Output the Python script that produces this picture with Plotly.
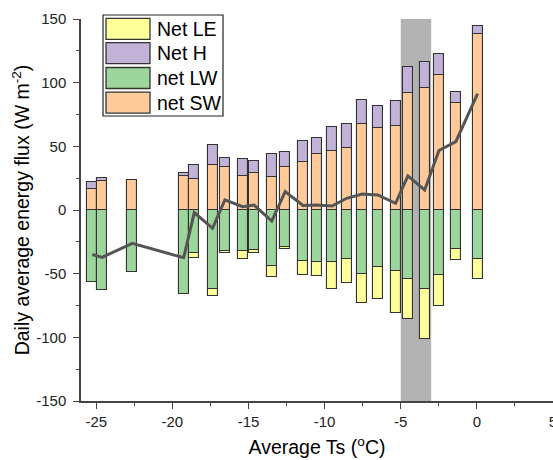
import plotly.graph_objects as go

# ---------------- data ----------------
avg_ts = [-25.26, -24.62, -22.63, -19.26, -18.56, -17.36, -16.55, -15.38, -14.63,
          -13.47, -12.59, -11.42, -10.53, -9.51, -8.55, -7.53, -6.51, -5.34,
          -4.53, -3.43, -2.49, -1.38, 0.05]
net_sw = [16.5, 22.8, 23.6, 27.0, 24.4, 35.2, 34.1, 27.0, 28.9, 26.2, 34.1, 37.5,
          43.8, 46.4, 49.0, 67.4, 64.3, 66.3, 91.8, 96.2, 105.7, 83.9, 138.2]
net_h = [5.3, 2.6, 0.0, 1.9, 10.8, 16.2, 7.1, 12.9, 9.7, 17.6, 11.3, 17.0,
         12.6, 19.1, 18.4, 19.1, 17.0, 19.4, 20.9, 20.0, 17.1, 9.1, 6.5]
net_lw = [-56.9, -62.9, -48.8, -66.3, -33.6, -62.2, -32.0, -32.5, -31.7, -43.8, -29.1, -40.4,
          -41.1, -41.1, -38.6, -50.6, -44.6, -48.0, -54.1, -61.9, -50.9, -30.9, -38.6]
net_le = [0.0, 0.0, 0.0, 0.0, -3.9, -5.0, -1.6, -6.1, -2.4, -8.7, -1.3, -11.0,
          -10.5, -21.0, -19.1, -22.8, -25.4, -32.5, -31.7, -39.6, -24.4, -8.4, -15.7]
net_total = [-34.9, -37.2, -26.2, -37.5, -2.0, -14.4, 7.9, 2.6, 3.9, -8.7, 14.4, 3.5,
             3.9, 3.1, 9.2, 12.6, 11.8, 5.3, 26.8, 15.7, 46.7, 53.7, 91.3]
shade_range = [-5, -3]
x_ticks = [-25, -20, -15, -10, -5, 0, 5]
y_ticks = [-150, -100, -50, 0, 50, 100, 150]

# ---------------- styles ----------------
C_LE = "#FFFF99"
C_H = "#C3B2D8"
C_LW = "#9DD69D"
C_SW = "#FFCA99"
EDGE = "#333333"
FONT = "Liberation Sans, Arial, sans-serif"
BAR_W = 0.66

W, H = 553, 460
ML, MR, MT, MB = 81, 0, 19, 59


def px_x(px):
    return (px - ML) / (W - ML - MR)


def px_y(py):
    return (H - MB - py) / (H - MT - MB)


fig = go.Figure()
for name, vals, col in [("net SW", net_sw, C_SW), ("net LW", net_lw, C_LW),
                        ("Net H", net_h, C_H), ("Net LE", net_le, C_LE)]:
    fig.add_trace(go.Bar(x=avg_ts, y=vals, name=name, width=BAR_W,
                         marker=dict(color=col, line=dict(color=EDGE, width=1.1)),
                         showlegend=False))

fig.add_trace(go.Scatter(x=avg_ts, y=net_total, mode="lines", name="Net",
                         line=dict(color="#555555", width=3), showlegend=False))

# shaded band
fig.add_shape(type="rect", xref="x", yref="y", x0=shade_range[0], x1=shade_range[1],
              y0=-150, y1=150, fillcolor="#B2B2B2", line=dict(width=0), layer="below")

# custom legend (large swatches like the original)
fig.add_shape(type="rect", xref="paper", yref="paper",
              x0=px_x(103), x1=px_x(223), y0=px_y(116), y1=px_y(15),
              fillcolor="white", line=dict(color="#222222", width=1.2), layer="above")
legend_items = [("Net LE", C_LE), ("Net H", C_H), ("net LW", C_LW), ("net SW", C_SW)]
row_c = [28.8, 53.2, 78.0, 102.6]
for (lab, col), yc in zip(legend_items, row_c):
    fig.add_shape(type="rect", xref="paper", yref="paper",
                  x0=px_x(106), x1=px_x(150), y0=px_y(yc + 10.5), y1=px_y(yc - 10.5),
                  fillcolor=col, line=dict(color=EDGE, width=1.3), layer="above")
    fig.add_annotation(x=px_x(155), y=px_y(yc), xref="paper", yref="paper",
                       text=lab, showarrow=False, xanchor="left", yanchor="middle",
                       font=dict(family=FONT, size=19.5, color="black"))

fig.update_layout(
    width=W, height=H,
    margin=dict(l=ML, r=MR, t=MT, b=MB, pad=0),
    barmode="relative",
    bargap=0,
    plot_bgcolor="white", paper_bgcolor="white",
    font=dict(family=FONT, color="#222222"),
    showlegend=False,
)
fig.update_xaxes(
    range=[-26, 5], tickvals=x_ticks, ticktext=[str(v) for v in x_ticks],
    showgrid=False, zeroline=False, showline=True, linecolor="#444444", linewidth=1.5,
    ticks="outside", ticklen=6, tickwidth=1.2, tickcolor="#444444",
    minor=dict(ticks="outside", dtick=2.5, tick0=0, ticklen=3.5, tickwidth=1.2, tickcolor="#444444"),
    tickfont=dict(family=FONT, size=15, color="#222222"),
    ticklabeloverflow="allow",
    title=dict(text="Average Ts (<sup>o</sup>C)", font=dict(family=FONT, size=19.5, color="black"),
               standoff=12),
    automargin=False,
)
fig.update_yaxes(
    range=[-150, 150], tickvals=y_ticks, ticktext=[str(v) for v in y_ticks],
    showgrid=False, zeroline=False, showline=True, linecolor="#444444", linewidth=1.5,
    ticks="outside", ticklen=6, tickwidth=1.2, tickcolor="#444444",
    minor=dict(ticks="outside", dtick=25, tick0=0, ticklen=3.5, tickwidth=1.2, tickcolor="#444444"),
    tickfont=dict(family=FONT, size=15, color="#222222"),
    ticklabelstandoff=4,
    title=dict(text="Daily average energy flux (W m<sup>-2</sup>)",
               font=dict(family=FONT, size=19.5, color="black"), standoff=1),
    automargin=False,
)

fig.write_html("out.html")
